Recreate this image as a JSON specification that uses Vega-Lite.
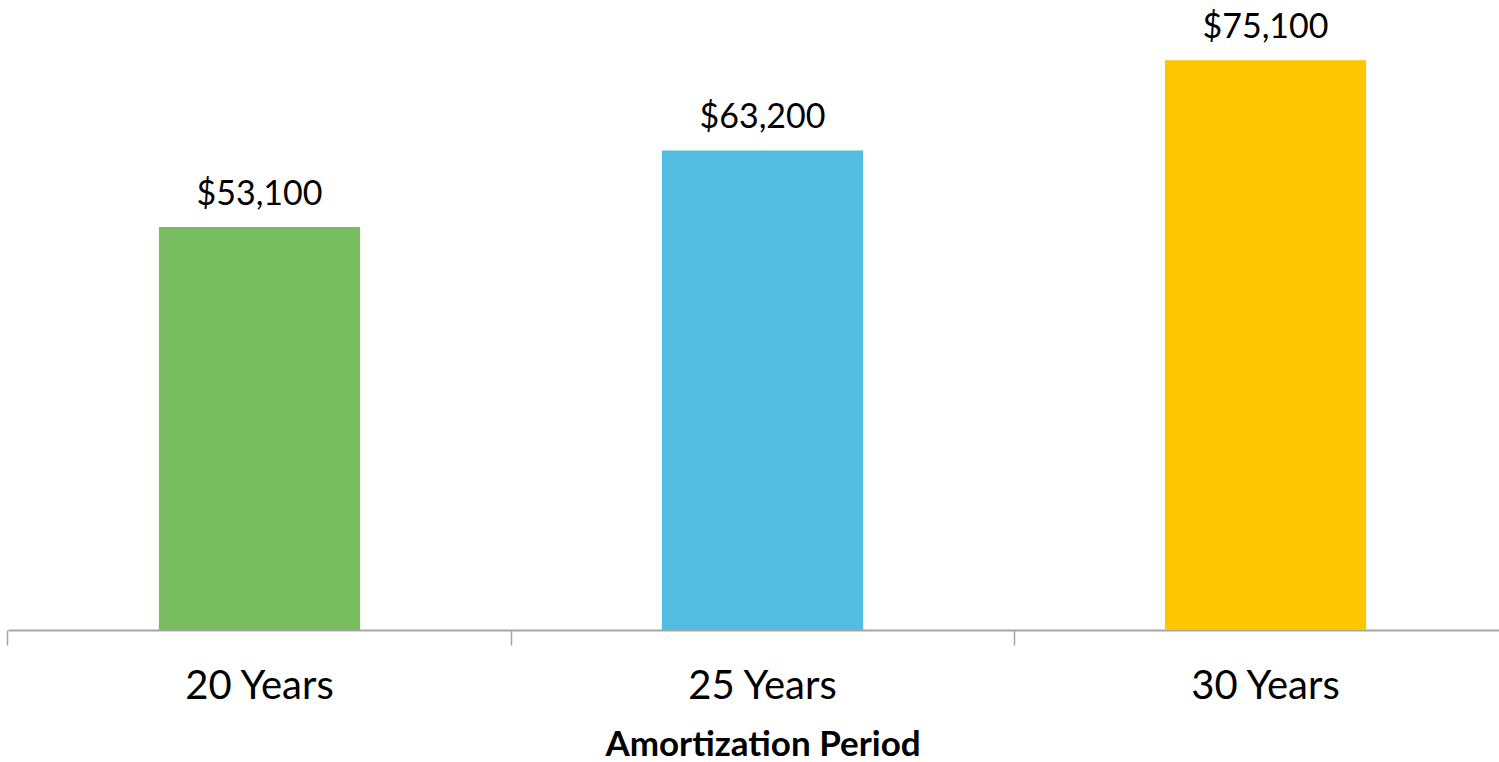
{
  "$schema": "https://vega.github.io/schema/vega-lite/v6.json",
  "width": 1491,
  "height": 607,
  "autosize": {"type": "none"},
  "padding": {"left": 8, "top": 23, "right": 0, "bottom": 132},
  "background": "white",
  "config": {"view": {"stroke": null}, "font": "Lato"},
  "data": {"values": [
    {"period": "20 Years", "cost": 53100},
    {"period": "25 Years", "cost": 63200},
    {"period": "30 Years", "cost": 75100}
  ]},
  "encoding": {
    "x": {
      "field": "period", "type": "nominal", "sort": null,
      "scale": {"range": [0, 1509], "paddingInner": 0.6, "paddingOuter": 0.3},
      "axis": {
        "title": "Amortization Period",
        "titleFont": "Lato", "titleFontSize": 35, "titleFontWeight": "bold", "titleColor": "black",
        "titlePadding": 21,
        "labelAngle": 0, "labelFont": "Lato", "labelFontSize": 40, "labelColor": "black",
        "labelPadding": 21,
        "bandPosition": -0.75, "tickSize": 15, "tickColor": "#a6a6a6", "domainColor": "#a6a6a6",
        "domainWidth": 2, "tickWidth": 1.5, "grid": false
      }
    },
    "y": {
      "field": "cost", "type": "quantitative",
      "scale": {"domain": [0, 80000], "nice": false},
      "axis": null
    }
  },
  "layer": [
    {
      "mark": {"type": "bar"},
      "encoding": {
        "color": {
          "field": "period", "type": "nominal",
          "scale": {"domain": ["20 Years", "25 Years", "30 Years"], "range": ["#78BE60", "#52BDE0", "#FDC600"]},
          "legend": null
        }
      }
    },
    {
      "mark": {"type": "text", "baseline": "alphabetic", "dy": -22, "fontSize": 34, "font": "Lato", "color": "black"},
      "encoding": {
        "text": {"field": "cost", "type": "quantitative", "format": "$,.0f"}
      }
    }
  ]
}
